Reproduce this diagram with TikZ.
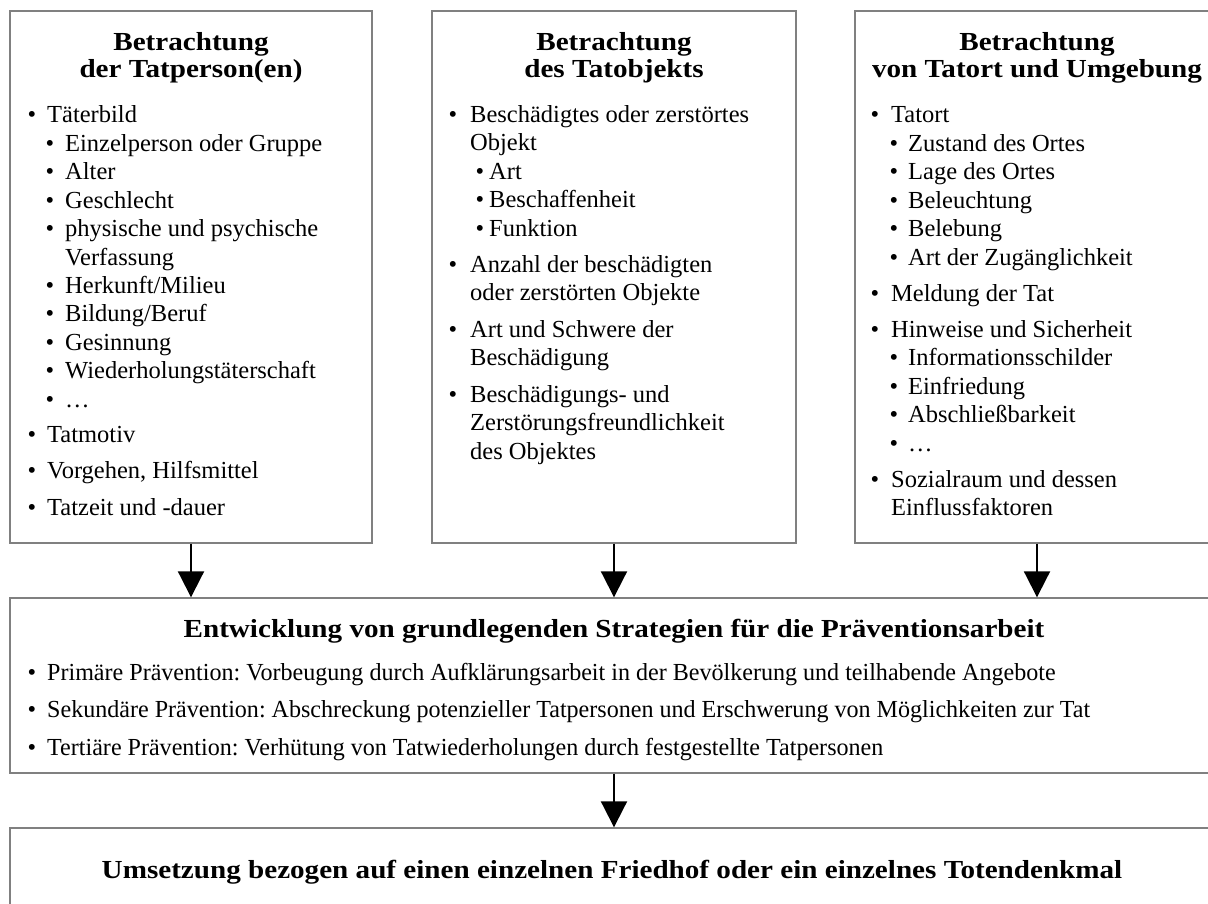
\documentclass[tikz,border=0pt]{standalone}
\usepackage{fontspec}
\setmainfont{Liberation Serif}
\newfontfamily\hdfont[FakeStretch=1.12]{Liberation Serif}
\newfontfamily\narrowfont[FakeStretch=0.982]{Liberation Serif}
\usetikzlibrary{arrows.meta}
\definecolor{boxgray}{RGB}{128,128,128}
\frenchspacing
\tikzset{
  box/.style={draw=boxgray, line width=1.4pt, inner sep=0pt},
  txt/.style={anchor=base west, inner sep=0pt, font=\fontsize{24.5}{29}\selectfont},
  wtxt/.style={anchor=base west, inner sep=0pt, font=\narrowfont\fontsize{24.5}{29}\selectfont},
  bul/.style={anchor=base, inner sep=0pt, font=\fontsize{24.5}{29}\selectfont},
  hd/.style={anchor=base, inner sep=0pt, font=\hdfont\bfseries\fontsize{26}{31}\selectfont},
  arr/.style={line width=2pt, -{Triangle[width=26pt,length=26pt]}},
}
\newcommand\itm[5]{\node[bul] (#1b) at (#2,#4) {\textbullet}; \node[txt] (#1) at (#3,#4) {#5};}
\newcommand\witm[5]{\node[bul] (#1b) at (#2,#4) {\textbullet}; \node[wtxt] (#1) at (#3,#4) {#5};}
\newcommand\cnt[4]{\node[txt] (#1) at (#2,#3) {#4};}
\begin{document}
\begin{tikzpicture}[x=1pt,y=-1pt]
\useasboundingbox (0,0) rectangle (1208,903);
\clip (0,0) rectangle (1208,903);
% boxes
\node[box, minimum width=362pt, minimum height=532pt] (b1) at (191,277) {};
\node[box, minimum width=364pt, minimum height=532pt] (b2) at (614,277) {};
\node[box, minimum width=364pt, minimum height=532pt] (b3) at (1037,277) {};
\node[box, minimum width=1208pt, minimum height=175pt] (b4) at (614,685.5) {};
\node[box, minimum width=1208pt, minimum height=180pt] (b5) at (614,918) {};
% arrows
\draw[arr] (b1.south) -- (b1.south |- b4.north);
\draw[arr] (b2.south) -- (b4.north);
\draw[arr] (b3.south) -- (b3.south |- b4.north);
\draw[arr] (b4.south) -- (b5.north);
% left box
\node[hd] (h1a) at (191,50) {Betrachtung};
\node[hd] (h1b) at (191,77) {der Tatperson(en)};
\itm{L1}{32}{47}{122}{Täterbild}
\itm{L2}{50}{65}{151}{Einzelperson oder Gruppe}
\itm{L3}{50}{65}{179.5}{Alter}
\itm{L4}{50}{65}{208}{Geschlecht}
\itm{L5}{50}{65}{236.5}{physische und psychische}
\cnt{L5c}{65}{265}{Verfassung}
\itm{L6}{50}{65}{293}{Herkunft/Milieu}
\itm{L7}{50}{65}{321.5}{Bildung/Beruf}
\itm{L8}{50}{65}{350}{Gesinnung}
\itm{L9}{50}{65}{378.5}{Wiederholungstäterschaft}
\itm{L10}{50}{65}{407}{…}
\itm{L11}{32}{47}{442}{Tatmotiv}
\itm{L12}{32}{47}{478.5}{Vorgehen, Hilfsmittel}
\itm{L13}{32}{47}{515}{Tatzeit und -dauer}
% middle box
\node[hd] (h2a) at (614,50) {Betrachtung};
\node[hd] (h2b) at (614,77) {des Tatobjekts};
\itm{M1}{453}{470}{122}{Beschädigtes oder zerstörtes}
\cnt{M1c}{470}{150.5}{Objekt}
\itm{M2}{480}{489}{179}{Art}
\itm{M3}{480}{489}{207.5}{Beschaffenheit}
\itm{M4}{480}{489}{236}{Funktion}
\itm{M5}{453}{470}{272}{Anzahl der beschädigten}
\cnt{M5c}{470}{300.5}{oder zerstörten Objekte}
\itm{M6}{453}{470}{337}{Art und Schwere der}
\cnt{M6c}{470}{365.5}{Beschädigung}
\itm{M7}{453}{470}{402}{Beschädigungs- und}
\cnt{M7c}{470}{430.5}{Zerstörungsfreundlichkeit}
\cnt{M7d}{470}{459}{des Objektes}
% right box
\node[hd] (h3a) at (1037,50) {Betrachtung};
\node[hd] (h3b) at (1037,77) {von Tatort und Umgebung};
\itm{R1}{875}{891}{122}{Tatort}
\itm{R2}{894}{908}{151}{Zustand des Ortes}
\itm{R3}{894}{908}{179.5}{Lage des Ortes}
\itm{R4}{894}{908}{208}{Beleuchtung}
\itm{R5}{894}{908}{236.5}{Belebung}
\itm{R6}{894}{908}{265}{Art der Zugänglichkeit}
\itm{R7}{875}{891}{301}{Meldung der Tat}
\itm{R8}{875}{891}{337}{Hinweise und Sicherheit}
\itm{R9}{894}{908}{365.5}{Informationsschilder}
\itm{R10}{894}{908}{394}{Einfriedung}
\itm{R11}{894}{908}{422.5}{Abschließbarkeit}
\itm{R12}{894}{908}{451}{…}
\itm{R13}{875}{891}{487}{Sozialraum und dessen}
\cnt{R13c}{891}{515.5}{Einflussfaktoren}
% wide box
\node[hd] (h4) at (614,637) {Entwicklung von grundlegenden Strategien für die Präventionsarbeit};
\witm{W1}{32}{47}{680}{Primäre Prävention: Vorbeugung durch Aufklärungsarbeit in der Bevölkerung und teilhabende Angebote}
\witm{W2}{32}{47}{717.5}{Sekundäre Prävention: Abschreckung potenzieller Tatpersonen und Erschwerung von Möglichkeiten zur Tat}
\witm{W3}{32}{47}{755}{Tertiäre Prävention: Verhütung von Tatwiederholungen durch festgestellte Tatpersonen}
% bottom box
\node[hd] (h5) at (612,878) {Umsetzung bezogen auf einen einzelnen Friedhof oder ein einzelnes Totendenkmal};
\end{tikzpicture}
\end{document}
